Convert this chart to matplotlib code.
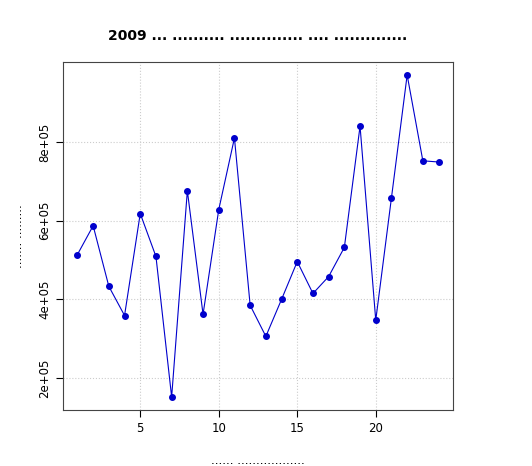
import matplotlib
matplotlib.use("Agg")
import matplotlib.pyplot as plt

months = list(range(1, 25))
values = [514e3, 587e3, 433e3, 359e3, 618e3, 509e3, 152e3, 676e3, 362e3, 628e3,
          810e3, 385e3, 306e3, 400e3, 496e3, 415e3, 458e3, 532e3, 840e3, 347e3,
          658e3, 970e3, 752e3, 749e3]
yticks = [2e5, 4e5, 6e5, 8e5]
ytick_labels = ["2e+05", "4e+05", "6e+05", "8e+05"]
xticks = [5, 10, 15, 20]

fig = plt.figure(figsize=(5.32, 4.66), dpi=100)
ax = fig.add_axes([63/532, 1-410/466, 390/532, 348/466])

ax.plot(months, values, color="#0000cc", lw=0.8, marker="o", ms=4,
        markerfacecolor="#0000cc", markeredgecolor="#0000cc")

ax.set_xlim(0.08, 24.92)
ax.set_ylim(119e3, 1003e3)
ax.set_xticks(xticks)
ax.set_yticks(yticks)
ax.set_yticklabels(ytick_labels, rotation=90, va="center")
ax.tick_params(labelsize=8.5, length=5, colors="black")
ax.grid(True, color="#cccccc", ls=":", lw=0.8)
for s in ax.spines.values():
    s.set_color("#444444")
    s.set_linewidth(0.8)

fig.text(258/532, 1-36/466, "2009 ... .......... .............. .... ..............",
         fontsize=10, fontweight="bold", ha="center", va="center")
fig.text(258/532, 1-460/466, "...... ..................", fontsize=8.5,
         ha="center", va="center")
fig.text(18/532, 1-236/466, "....... .........", fontsize=8.5, rotation=90,
         ha="center", va="center")

fig.savefig("out.png", dpi=100, facecolor="white")
